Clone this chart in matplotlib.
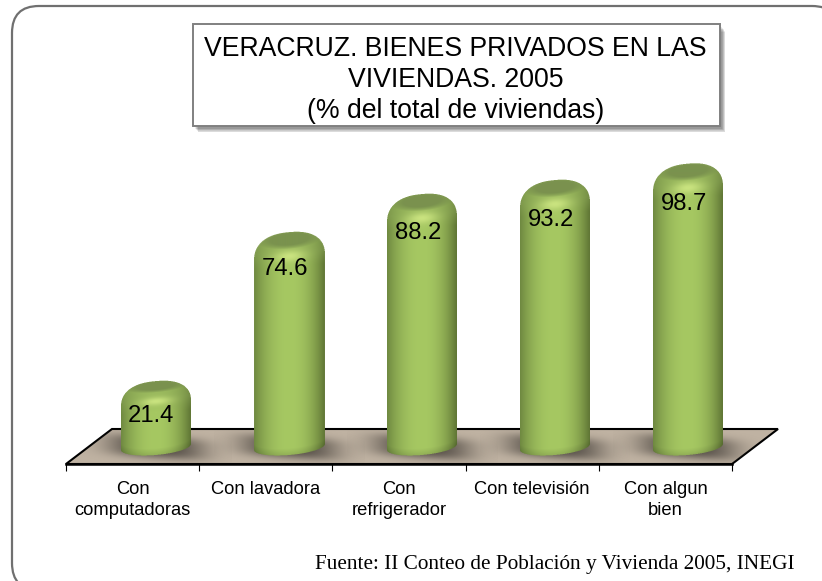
import numpy as np
import matplotlib
matplotlib.use("Agg")
import matplotlib.pyplot as plt
from matplotlib.patches import FancyBboxPatch, Polygon, Rectangle

categories = ["Con\ncomputadoras", "Con lavadora", "Con\nrefrigerador",
              "Con televisión", "Con algun\nbien"]
values = [21.4, 74.6, 88.2, 93.2, 98.7]
title_text = "VERACRUZ. BIENES PRIVADOS EN LAS\nVIVIENDAS. 2005\n(% del total de viviendas)"
source_text = "Fuente: II Conteo de Población y Vivienda 2005, INEGI"
label_nudge_pt = [3.2, 1.8, 0.0, -0.5, 0.0]

W, H = 822, 581
plt.rcParams["font.family"] = ["Liberation Sans", "DejaVu Sans"]
fig = plt.figure(figsize=(W / 100, H / 100), dpi=100, facecolor="white")

# page layer in pixel units
bg = fig.add_axes([0, 0, 1, 1], zorder=0)
bg.set_xlim(0, W)
bg.set_ylim(H, 0)
bg.axis("off")
bg.add_patch(FancyBboxPatch((12, 6), 827, 584, boxstyle="round,pad=0,rounding_size=27",
                            fc="white", ec="#707070", lw=1.6, mutation_aspect=1))
# title box with soft shadow
for i in range(7):
    bg.add_patch(Rectangle((193 + i * 0.5 + 2, 24 + 3 + i * 0.8), 527, 102 - i * 0.3, fc="#303030",
                           ec="none", alpha=0.09))
bg.add_patch(Rectangle((193, 24), 527, 102, fc="white", ec="#808080", lw=1.4))
bg.text(455.5, 80, title_text, ha="center", va="center", fontsize=19.2, color="black",
        linespacing=1.23)
bg.text(794, 565, source_text, ha="right", va="center", fontsize=15.3,
        family=["Liberation Serif"], color="black")

# floor
floor = Polygon([(66, 464), (732, 464), (778, 429), (112, 429)], closed=True,
                fc="#bfb2a2", ec="black", lw=1.5, joinstyle="miter")
bg.add_patch(floor)

# chart layer
PX_X = 133.2
PX_Y = 2.8
ZERO_PX = 447
AXIS_PX = 464
TOP_PX = 100
ax = fig.add_axes([66 / W, 1 - AXIS_PX / H, 666 / W, (AXIS_PX - TOP_PX) / H], zorder=1)
ax.patch.set_alpha(0)
for s in ["top", "left", "right"]:
    ax.spines[s].set_visible(False)
ax.spines["bottom"].set_linewidth(1.8)
ax.set_yticks([])
n = len(categories)
ax.set_xticks(np.arange(n), categories, fontsize=13.2, linespacing=1.28)
ax.set_xticks(np.arange(n + 1) - 0.5, minor=True)
ax.tick_params(axis="x", which="major", length=0, pad=12.2)
ax.tick_params(axis="x", which="minor", length=5, width=0.8, direction="out")
OFFSET = 23 / PX_X   # 3D depth shift of the bars relative to the floor front


def shadow(cx):
    gx = np.linspace(-75, 75, 151)
    gy = np.linspace(-24, 24, 49)
    X, Y = np.meshgrid(gx, gy)
    r2 = (np.abs(X) / 49) ** 3 + (np.abs(Y + 0.07 * X) / 11.5) ** 3
    a = 0.85 * np.exp(-r2)
    img = np.zeros(a.shape + (4,))
    img[..., :3] = np.array([70, 64, 58]) / 255
    img[..., 3] = a
    im = ax.imshow(img, origin="lower", aspect="auto", zorder=2, interpolation="bilinear",
                   extent=(cx - 75 / PX_X, cx + 75 / PX_X, -24 / PX_Y, 24 / PX_Y))
    im.set_clip_box(fig.bbox)
    im.set_clip_path(floor)


def cylinder(cx, v):
    a = 35.0
    hv = v * PX_Y
    tilt = 0.085
    ss = 3
    xs = np.arange(-(a + 2), a + 2, 1 / ss) + 0.5 / ss
    ys = np.arange(-hv - 16, 12, 1 / ss) + 0.5 / ss
    X, Y = np.meshgrid(xs, ys)
    Yt = Y - tilt * X
    u = np.clip(np.abs(X) / a, 0, 1)
    cap = 0.55 + 0.45 * min(1, v / 74)
    shoulder = -10 - 10 * cap
    top = shoulder + (6 - shoulder) * (1 - u ** 2.4) ** (1 / 2.4)
    bottom = -hv - 8 * np.sqrt(1 - u ** 2)
    mask = (np.abs(X) <= a) & (Yt <= top) & (Yt >= bottom)
    # body shading
    side = (1 - u ** 2.2)[..., None]
    edge = np.where((X < 0)[..., None], np.array([110, 136, 64.0]), np.array([94, 116, 52.0]))
    centre = np.array([166, 200, 98.0])
    rgb = edge + (centre - edge) * side
    # shoulder glow and highlight
    glow = np.clip((Yt - (shoulder - 8)) / 14, 0, 1)[..., None]
    rgb = rgb + (np.array([140, 168, 88.0]) - rgb) * glow * 0.45
    hy = -6 - 12 * cap
    hl = np.exp(-((X / 15) ** 2) - ((Yt - hy) / (6 * cap)) ** 2)[..., None]
    rgb = rgb + (np.array([212, 236, 135.0]) - rgb) * hl * 0.8
    # top cap
    capcy = 6 - 7 * cap
    rr = (X / (0.8 * a)) ** 2 + ((Yt - capcy) / (8.5 * cap)) ** 2
    capw = np.clip((1.35 - rr) / 0.9, 0, 1)[..., None]
    rgb = rgb + (np.array([122, 146, 78.0]) - rgb) * capw
    # base fade
    base = np.clip(1 - (Yt - bottom) / 7, 0, 1)[..., None]
    rgb = rgb * (1 - 0.12 * base)
    # downsample
    ny, nx = mask.shape[0] // ss, mask.shape[1] // ss
    alpha = mask[:ny * ss, :nx * ss].reshape(ny, ss, nx, ss).mean(axis=(1, 3))
    col = rgb[1:ny * ss:ss, 1:nx * ss:ss]
    img = np.dstack([col / 255, alpha])
    ax.imshow(img, origin="lower", aspect="auto", zorder=3, interpolation="bilinear",
              extent=(cx - (a + 2) / PX_X, cx + (a + 2) / PX_X, -16 / PX_Y, v + 12 / PX_Y))


for i, v in enumerate(values):
    shadow(i + OFFSET)
for i, v in enumerate(values):
    cylinder(i + OFFSET, v)
    ax.annotate(f"{v:.1f}", (i + OFFSET, v), xytext=(-3, -24 + label_nudge_pt[i]),
                textcoords="offset points", ha="center", va="center", fontsize=17.2,
                color="black", zorder=4)

ax.set_xlim(-0.5, n - 0.5)
ax.set_ylim((ZERO_PX - AXIS_PX) / PX_Y, (ZERO_PX - TOP_PX) / PX_Y)

fig.savefig("out.png", dpi=100, facecolor="white")
